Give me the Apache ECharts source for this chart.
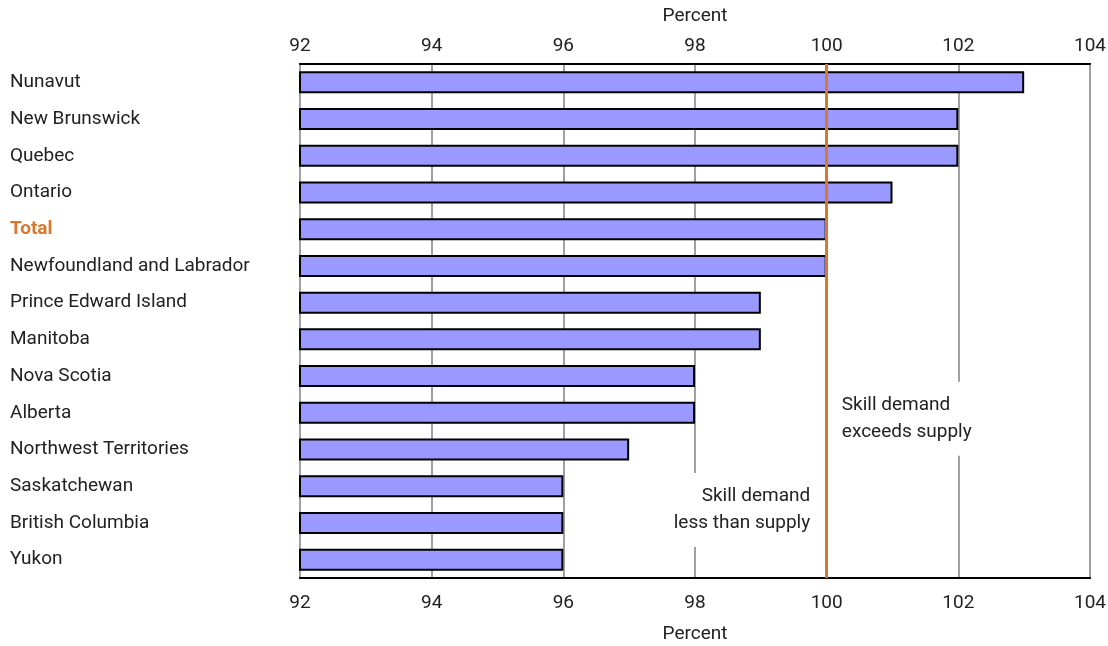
<!DOCTYPE html>
<html><head><meta charset="utf-8">
<script src="https://cdn.jsdelivr.net/npm/echarts@6/dist/echarts.min.js"></script>
<style>html,body{margin:0;padding:0;background:#fff}#c{width:1108px;height:646px}</style>
</head><body><div id="c"></div>
<script>
const categories = ['Nunavut','New Brunswick','Quebec','Ontario','Total','Newfoundland and Labrador','Prince Edward Island','Manitoba','Nova Scotia','Alberta','Northwest Territories','Saskatchewan','British Columbia','Yukon'];
const values = [103,102,102,101,100,100,99,99,98,98,97,96,96,96];
const axisMin = 92, axisMax = 104, axisStep = 2;
const refValue = 100;
const FONT = 'Roboto,sans-serif';

const chart = echarts.init(document.getElementById('c'));
const xCommon = {
  type:'value', min:axisMin, max:axisMax, interval:axisStep,
  name:'Percent', nameLocation:'middle',
  axisLine:{show:true, lineStyle:{color:'#000', width:2}},
  axisTick:{show:false},
  nameTextStyle:{color:'#222', fontSize:19, fontFamily:FONT}
};
chart.setOption({
  animation:false,
  grid:{left:300, right:18, top:64, bottom:68, show:true, borderColor:'#000', borderWidth:2,
        containLabel:false, outerBoundsMode:'none'},
  xAxis:[
    Object.assign({}, xCommon, {position:'bottom', nameGap:47,
      axisLabel:{color:'#222', fontSize:19, fontFamily:FONT, margin:16},
      splitLine:{show:true, lineStyle:{color:'#a0a0a0', width:2}}}),
    Object.assign({}, xCommon, {position:'top', nameGap:38,
      axisLabel:{color:'#222', fontSize:19, fontFamily:FONT, margin:8},
      splitLine:{show:false}})
  ],
  yAxis:{
    type:'category', data:categories, inverse:true,
    axisLine:{show:false}, axisTick:{show:false},
    axisLabel:{
      align:'left', margin:290, fontSize:19, fontFamily:FONT, color:'#222',
      formatter:v => v==='Total' ? '{t|'+v+'}' : v,
      rich:{t:{color:'#d9782d', fontWeight:'bold', fontSize:19, fontFamily:FONT}}
    }
  },
  series:[{
    type:'bar', data:values, barWidth:22, xAxisIndex:0,
    itemStyle:{color:'#9999ff', borderColor:'#000', borderWidth:2},
    markLine:{
      silent:true, symbol:'none', label:{show:false},
      lineStyle:{color:'#d9782d', width:3, type:'solid'},
      data:[{xAxis:refValue}]
    },
    z:2
  }]
});

function place(){
  const p1 = chart.convertToPixel({gridIndex:0}, [99.78, 'British Columbia']);
  const p2 = chart.convertToPixel({gridIndex:0}, [100.2, 'Alberta']);
  chart.setOption({graphic:[
    {type:'text', x:p1[0], y:p1[1]-13, z:10,
     style:{text:'Skill demand\nless than supply', align:'right', verticalAlign:'middle',
       font:'19px '+FONT, fill:'#222', lineHeight:27, backgroundColor:'#fff', padding:[10,2,10,2]}},
    {type:'text', x:p2[0], y:p2[1]+6, z:10,
     style:{text:'Skill demand\nexceeds supply', align:'left', verticalAlign:'middle',
       font:'19px '+FONT, fill:'#222', lineHeight:27, backgroundColor:'#fff', padding:[10,2,10,2]}}
  ]});
}
place();
</script></body></html>
